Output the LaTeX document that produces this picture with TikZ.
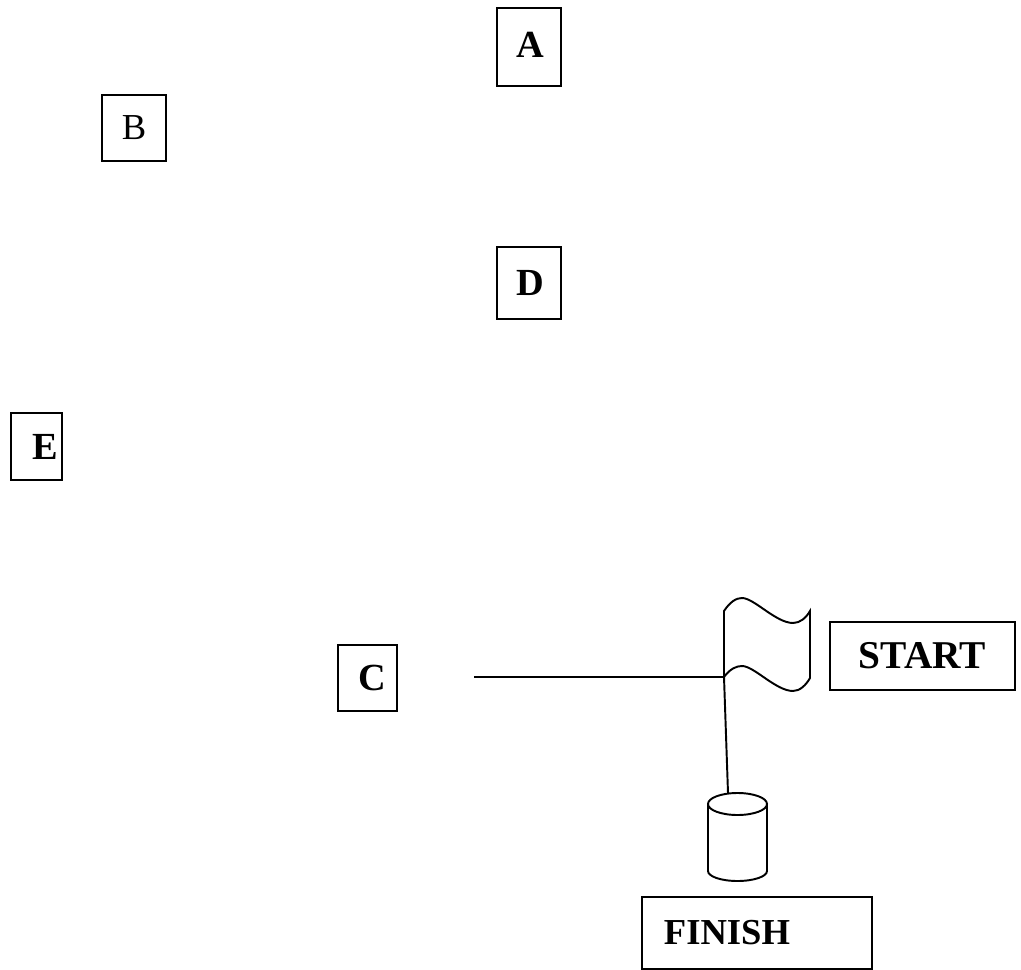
\documentclass[tikz,border=0pt]{standalone}
\usepackage{fontspec}
\setmainfont{Liberation Serif}
\tikzset{
  lbl/.style={draw, line width=0.55pt, rectangle, inner sep=0pt, font=\fontsize{10.9}{12}\selectfont\bfseries},
  lblplain/.style={lbl, font=\fontsize{10.4}{12}\selectfont},
  shp/.style={line width=0.55pt}
}
\begin{document}
\begin{tikzpicture}[x=0.01cm,y=-0.01cm]
\useasboundingbox (0,0) rectangle (1021,970);
\node[lbl, minimum width=0.64cm, minimum height=0.78cm] (A) at (529,47) {\raisebox{0.04cm}{\hspace*{0.02cm}A}};
\node[lblplain, minimum width=0.64cm, minimum height=0.66cm] (B) at (134,128) {\raisebox{-0.02cm}{B}};
\node[lbl, minimum width=0.64cm, minimum height=0.72cm] (D) at (529,283) {\hspace*{0.02cm}D};
\node[lbl, minimum width=0.51cm, minimum height=0.67cm] (E) at (36.5,446.5) {\hspace*{0.18cm}E};
\node[lbl, minimum width=0.59cm, minimum height=0.66cm] (C) at (367.5,678) {\hspace*{0.09cm}C};
\node[lbl, font=\fontsize{11.2}{12}\selectfont\bfseries, minimum width=1.85cm, minimum height=0.68cm] (START) at (922.5,656) {START};
\node[lbl, font=\fontsize{10.4}{12}\selectfont\bfseries, minimum width=2.30cm, minimum height=0.72cm] (FINISH) at (757,933) {FINISH\hspace*{0.6cm}};
\coordinate (linestart) at (474,677);
\coordinate (poletop) at (724,677);
\coordinate (polebase) at (728,793);
% flag
\draw[shp] (724,611) .. controls (730,602) and (736,598) .. (742,598) .. controls (754,598) and (776,623) .. (793,623) .. controls (800,623) and (806,618) .. (810,611)
  -- (810,678) .. controls (806,685) and (800,691) .. (793,691) .. controls (776,691) and (754,666) .. (742,666) .. controls (736,666) and (730,669) .. (poletop) -- cycle;
\draw[shp] (linestart) -- (poletop);
\draw[shp] (poletop) -- (polebase);
% can
\draw[shp] (708,804) arc[start angle=180, end angle=-180, x radius=29.5, y radius=-11];
\draw[shp] (708,804) -- (708,871) arc[start angle=180, end angle=360, x radius=29.5, y radius=-10] -- (767,804);
\end{tikzpicture}
\end{document}
